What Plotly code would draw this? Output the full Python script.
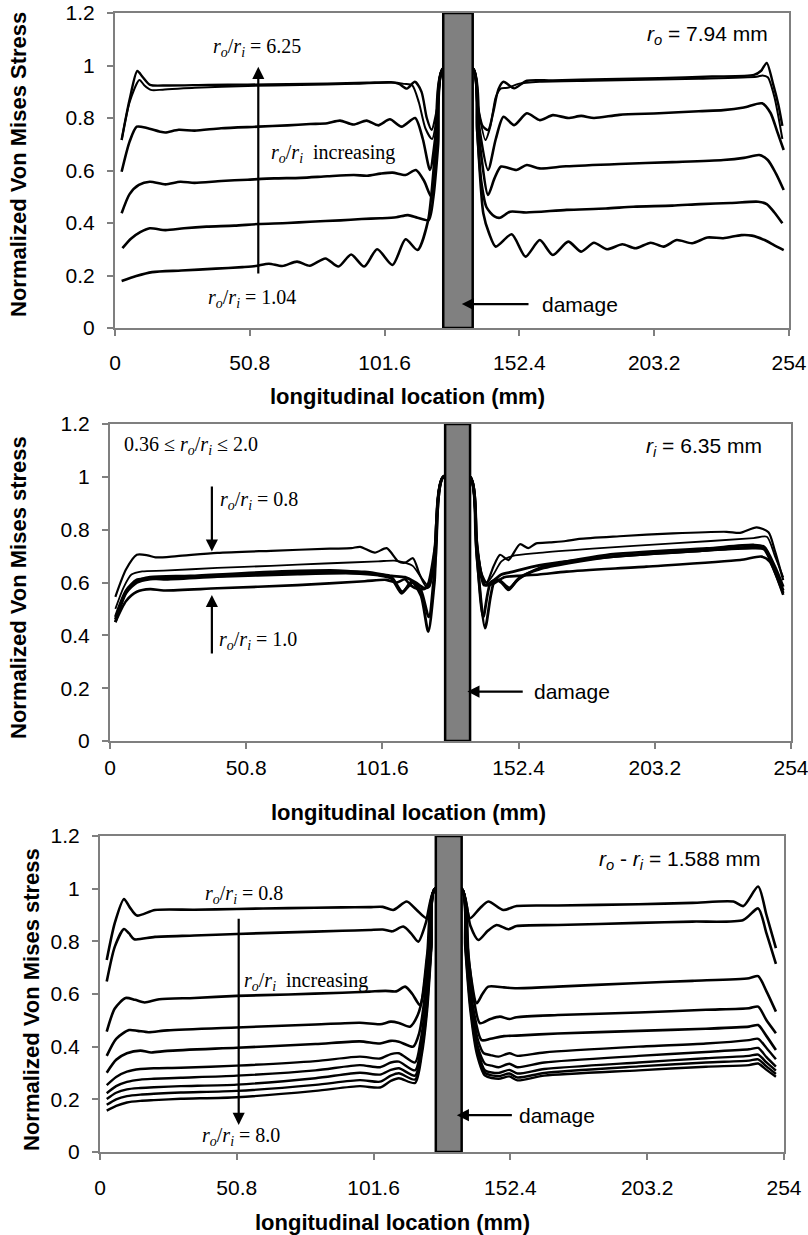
import plotly.graph_objects as go

# ---------------- axis ticks ----------------
X_TICKS = [0, 50.8, 101.6, 152.4, 203.2, 254]
X_TICK_TEXT = ["0", "50.8", "101.6", "152.4", "203.2", "254"]
Y_TICKS = [0, 0.2, 0.4, 0.6, 0.8, 1.0, 1.2]
Y_TICK_TEXT = ["0", "0.2", "0.4", "0.6", "0.8", "1", "1.2"]

# damage zone (mm) per panel
DAMAGE_P1 = [123.7, 134.8]
DAMAGE_P2 = [125.0, 134.3]
DAMAGE_P3 = [124.7, 134.3]

# ---------------- Panel 1 : r_o = 7.94 mm ----------------
P1_C1_X = [2.5, 5.5, 8.4, 10.5, 13.2, 20, 35, 50, 65, 80, 95, 104, 107, 110, 113, 115.5, 117.5, 119.3, 121.5, 123.7,
           134.8, 136.5, 138.5, 140.6, 142.5, 144.5, 146.4, 150.4, 155.2, 165, 185, 205, 225, 240.8, 243.5, 245.6, 248, 250, 251.5]
P1_C1_Y = [0.716, 0.87, 0.979, 0.955, 0.926, 0.924, 0.926, 0.927, 0.929, 0.931, 0.934, 0.936, 0.93, 0.912, 0.938, 0.9, 0.8, 0.755, 0.84, 0.99,
           0.99, 0.86, 0.77, 0.754, 0.82, 0.91, 0.938, 0.913, 0.942, 0.943, 0.948, 0.952, 0.958, 0.964, 0.98, 1.01, 0.93, 0.85, 0.77]
P1_C2_X = [2.5, 5.5, 9.2, 11, 13.5, 18, 30, 50, 70, 90, 105, 109, 112, 114.5, 117, 119.5, 121.5, 123.7,
           134.8, 136.8, 139.6, 141.5, 143.5, 145.5, 148, 152, 160, 180, 200, 220, 241.8, 244, 246, 248.5, 251.5]
P1_C2_Y = [0.716, 0.86, 0.945, 0.925, 0.907, 0.908, 0.915, 0.922, 0.926, 0.93, 0.935, 0.93, 0.925, 0.86, 0.76, 0.72, 0.82, 0.99,
           0.99, 0.84, 0.716, 0.77, 0.88, 0.913, 0.915, 0.93, 0.938, 0.942, 0.946, 0.95, 0.957, 0.962, 0.955, 0.88, 0.72]
P1_C3_X = [2.5, 5.5, 8.2, 12, 17, 19, 24, 30, 40, 54, 65, 73.5, 80, 84.8, 89.8, 94.8, 99.2, 103.6, 108, 113.1, 116, 118.7, 121, 123.7,
           134.8, 137, 140.6, 143.5, 146.4, 150.4, 155.2, 160.1, 165, 170.8, 175.7, 180.5, 190, 205, 220, 229.2, 237, 243.8, 247, 249.5, 252]
P1_C3_Y = [0.595, 0.71, 0.767, 0.762, 0.748, 0.745, 0.755, 0.752, 0.761, 0.767, 0.772, 0.777, 0.78, 0.79, 0.775, 0.79, 0.772, 0.795, 0.767, 0.8, 0.72, 0.602, 0.75, 0.99,
           0.99, 0.78, 0.602, 0.72, 0.805, 0.773, 0.818, 0.792, 0.811, 0.8, 0.808, 0.8, 0.812, 0.818, 0.826, 0.83, 0.84, 0.856, 0.82, 0.75, 0.678]
P1_C4_X = [2.5, 5.5, 9, 13.1, 19, 24.6, 30, 40, 50, 60, 70, 80, 90, 95, 100, 104.6, 109.5, 113.4, 116.5, 119.2, 121.5, 123.7,
           134.8, 137.5, 140.6, 143, 145.5, 151.3, 155.2, 160, 170, 190, 210, 229.2, 237, 242.8, 246, 249, 252]
P1_C4_Y = [0.437, 0.51, 0.545, 0.557, 0.547, 0.557, 0.553, 0.56, 0.565, 0.57, 0.572, 0.578, 0.583, 0.58, 0.588, 0.592, 0.583, 0.602, 0.56, 0.5, 0.7, 0.99,
           0.99, 0.7, 0.507, 0.57, 0.615, 0.602, 0.621, 0.608, 0.616, 0.625, 0.632, 0.64, 0.648, 0.659, 0.64, 0.59, 0.526]
P1_C5_X = [2.8, 6, 9.5, 13.1, 19, 26, 34.5, 45, 54, 65, 73.5, 85, 92.9, 100, 106, 110.4, 114, 118.2, 120, 121.8, 123.7,
           134.8, 136.5, 138, 140, 143, 145.1, 148.9, 155, 170.2, 185, 195.3, 210, 220.5, 232, 242.4, 245.6, 248.5, 251.5]
P1_C5_Y = [0.304, 0.34, 0.365, 0.38, 0.373, 0.38, 0.386, 0.39, 0.396, 0.4, 0.405, 0.41, 0.415, 0.418, 0.422, 0.43, 0.42, 0.411, 0.5, 0.7, 0.99,
           0.99, 0.75, 0.56, 0.46, 0.425, 0.42, 0.443, 0.44, 0.45, 0.455, 0.462, 0.466, 0.472, 0.476, 0.481, 0.472, 0.44, 0.399]
P1_C6_X = [2.5, 8, 14, 25, 38, 48, 53, 58, 63, 68.6, 73.4, 79.3, 84.2, 89, 93.9, 98.8, 104.6, 109.5, 114, 118, 120.6, 123.7,
           134.8, 136.5, 138.8, 141, 143.5, 149.5, 154.7, 160.1, 165, 170.8, 175.7, 180.5, 185.4, 191.2, 196.1, 201.9, 206.8,
           211.7, 217.5, 223.3, 229.2, 236, 240, 244.8, 248.5, 252]
P1_C6_Y = [0.179, 0.198, 0.213, 0.219, 0.226, 0.232, 0.236, 0.245, 0.236, 0.253, 0.237, 0.265, 0.234, 0.28, 0.234, 0.3, 0.24, 0.338, 0.297, 0.41, 0.667, 0.99,
           0.99, 0.75, 0.437, 0.36, 0.31, 0.357, 0.272, 0.335, 0.278, 0.329, 0.291, 0.325, 0.3, 0.319, 0.304, 0.325, 0.31,
           0.335, 0.323, 0.345, 0.342, 0.354, 0.352, 0.335, 0.315, 0.297]

# ---------------- Panel 2 : r_i = 6.35 mm ----------------
P2_C1_X = [2, 6, 10, 14, 17, 25, 40, 60, 82, 90, 93.3, 98.8, 103.2, 107.5, 110, 113, 115.5, 118, 120.5, 124.3,
           134.3, 136.5, 138.5, 140.5, 143, 145.5, 148.6, 152.9, 156, 159, 164, 170, 175, 190, 210, 230, 235, 241.2, 245.6, 248, 251.1]
P2_C1_Y = [0.546, 0.65, 0.705, 0.703, 0.695, 0.7, 0.712, 0.72, 0.728, 0.73, 0.735, 0.713, 0.73, 0.68, 0.675, 0.692, 0.63, 0.585, 0.65, 1.0,
           1.0, 0.78, 0.62, 0.6, 0.66, 0.705, 0.685, 0.745, 0.73, 0.748, 0.752, 0.757, 0.765, 0.775, 0.786, 0.792, 0.788, 0.809, 0.79, 0.72, 0.609]
P2_C2_X = [2, 5, 8, 12, 20, 40, 60, 80, 100, 106, 110, 113, 116, 119, 121.5, 124.3,
           134.3, 136.5, 138.5, 140.5, 143, 146, 150, 160, 180, 210, 240, 245, 248, 251.1]
P2_C2_Y = [0.5, 0.58, 0.63, 0.642, 0.645, 0.655, 0.663, 0.672, 0.68, 0.683, 0.675, 0.662, 0.62, 0.585, 0.72, 1.0,
           1.0, 0.8, 0.64, 0.6, 0.63, 0.68, 0.7, 0.712, 0.728, 0.748, 0.768, 0.773, 0.7, 0.62]
P2_C3_X = [2, 6, 10, 15, 20, 40, 70, 90, 100, 105, 108.8, 112.5, 116, 118.7, 121, 124.3,
           134.3, 136.8, 139.9, 142, 143.6, 146, 148.6, 152, 160, 185, 222.6, 240, 244, 248, 251.1]
P2_C3_Y = [0.47, 0.57, 0.61, 0.615, 0.612, 0.622, 0.632, 0.635, 0.628, 0.615, 0.559, 0.603, 0.55, 0.414, 0.6, 1.0,
           1.0, 0.7, 0.427, 0.55, 0.609, 0.6, 0.572, 0.61, 0.654, 0.704, 0.729, 0.742, 0.735, 0.66, 0.584]
P2_C4_X = [2, 6, 10, 15, 30, 60, 85, 100, 105, 109, 113, 116, 118.9, 121.5, 124.3,
           134.3, 136.5, 139.2, 142, 145, 149, 153, 160, 185, 220, 240, 244, 248, 251.1]
P2_C4_Y = [0.46, 0.565, 0.605, 0.62, 0.625, 0.64, 0.645, 0.63, 0.62, 0.565, 0.6, 0.57, 0.47, 0.7, 1.0,
           1.0, 0.75, 0.47, 0.6, 0.61, 0.58, 0.62, 0.65, 0.695, 0.72, 0.735, 0.73, 0.65, 0.57]
P2_C5_X = [2, 6, 10, 15, 40, 70, 95, 105, 110, 114, 117, 119, 121.5, 124.3,
           134.3, 137, 139.5, 142, 146, 150, 160, 190, 220, 240, 244, 248, 251.1]
P2_C5_Y = [0.45, 0.56, 0.6, 0.613, 0.625, 0.638, 0.64, 0.625, 0.62, 0.6, 0.58, 0.585, 0.75, 1.0,
           1.0, 0.72, 0.59, 0.6, 0.63, 0.64, 0.665, 0.7, 0.72, 0.73, 0.725, 0.64, 0.56]
P2_C6_X = [2, 6, 10, 15, 20, 40, 70, 95, 103, 107, 110, 112, 115, 118, 121, 124.3,
           134.3, 137, 140, 143, 147, 152, 160, 170.3, 200, 235, 243, 246, 251.1]
P2_C6_Y = [0.45, 0.53, 0.565, 0.575, 0.57, 0.578, 0.59, 0.605, 0.61, 0.6, 0.612, 0.59, 0.575, 0.58, 0.72, 1.0,
           1.0, 0.72, 0.59, 0.595, 0.62, 0.625, 0.63, 0.641, 0.66, 0.685, 0.698, 0.68, 0.553]

# ---------------- Panel 3 : r_o - r_i = 1.588 mm ----------------
P3_C1_X = [2.5, 5.5, 8.9, 11, 13.7, 20.4, 35, 50.8, 70, 90, 100, 105, 108.9, 113.9, 117.5, 121.3, 124.4,
           134.3, 137.4, 141, 144.2, 149.8, 154.7, 170, 200, 220, 235.2, 238.9, 244.4, 247.5, 251]
P3_C1_Y = [0.729, 0.87, 0.961, 0.93, 0.898, 0.919, 0.92, 0.923, 0.926, 0.929, 0.93, 0.931, 0.919, 0.951, 0.92, 0.888, 1.0,
           1.0, 0.888, 0.925, 0.951, 0.919, 0.934, 0.936, 0.941, 0.946, 0.951, 0.934, 1.008, 0.9, 0.774]
P3_C2_X = [2.5, 5.5, 8.9, 10.8, 12.7, 20.4, 35, 50.8, 70, 90, 100, 105, 108.5, 112.6, 115.5, 118.2, 121, 124.4,
           134.3, 137.5, 140.5, 144, 147.3, 151.6, 154.7, 170, 200, 220, 238.9, 244.4, 247.5, 251]
P3_C2_Y = [0.647, 0.78, 0.847, 0.83, 0.808, 0.817, 0.822, 0.828, 0.834, 0.84, 0.843, 0.845, 0.838, 0.856, 0.83, 0.799, 0.87, 1.0,
           1.0, 0.86, 0.805, 0.84, 0.862, 0.846, 0.858, 0.862, 0.87, 0.875, 0.881, 0.925, 0.83, 0.714]
P3_C3_X = [2.5, 5.5, 9.5, 13, 16.6, 22, 35, 50.8, 70, 90, 100, 106, 110, 113.3, 116, 118.8, 121.5, 124.4,
           134.3, 137, 139.9, 142, 144.2, 150, 154.7, 170, 198, 220, 241, 244.4, 247.5, 251]
P3_C3_Y = [0.457, 0.545, 0.585, 0.578, 0.568, 0.58, 0.585, 0.593, 0.598, 0.605, 0.609, 0.612, 0.61, 0.628, 0.6, 0.558, 0.75, 1.0,
           1.0, 0.72, 0.565, 0.6, 0.628, 0.625, 0.622, 0.628, 0.641, 0.65, 0.66, 0.668, 0.61, 0.533]
P3_C4_X = [2.5, 6, 10.8, 14, 18, 25, 50.8, 80, 96.5, 104, 108, 111, 115.1, 118, 120, 122, 124.4,
           134.3, 136.5, 138.5, 141.1, 145, 148.5, 152, 154.7, 170, 200, 225, 241, 244.4, 247.5, 251]
P3_C4_Y = [0.365, 0.43, 0.463, 0.46, 0.455, 0.462, 0.473, 0.484, 0.491, 0.485, 0.495, 0.49, 0.476, 0.52, 0.6, 0.78, 1.0,
           1.0, 0.78, 0.6, 0.489, 0.505, 0.514, 0.505, 0.512, 0.52, 0.53, 0.54, 0.546, 0.552, 0.5, 0.451]
P3_C5_X = [2.5, 6, 10, 15, 19, 25, 50.8, 80, 96.5, 104, 108, 111, 116.3, 118.5, 120.5, 122.3, 124.4,
           134.3, 136.3, 138.5, 141.7, 145, 150, 154.7, 170, 200, 225, 241, 244.4, 247.5, 251]
P3_C5_Y = [0.301, 0.35, 0.375, 0.385, 0.378, 0.384, 0.396, 0.41, 0.42, 0.412, 0.422, 0.419, 0.4, 0.45, 0.58, 0.78, 1.0,
           1.0, 0.76, 0.55, 0.425, 0.43, 0.44, 0.442, 0.45, 0.46, 0.468, 0.476, 0.482, 0.44, 0.387]
P3_C6_X = [2.5, 6, 10, 15, 20, 30, 50.8, 80, 96.5, 104, 108, 111, 117, 119, 121, 122.8, 124.4,
           134.3, 136, 138, 140.5, 142.5, 145, 148, 152, 155, 165, 200, 225, 241, 244.4, 247.5, 251]
P3_C6_Y = [0.254, 0.285, 0.305, 0.315, 0.318, 0.32, 0.328, 0.345, 0.362, 0.355, 0.372, 0.375, 0.34, 0.42, 0.57, 0.78, 1.0,
           1.0, 0.78, 0.56, 0.42, 0.375, 0.368, 0.362, 0.375, 0.365, 0.378, 0.4, 0.412, 0.425, 0.43, 0.395, 0.352]
P3_C7_X = [2.5, 6, 10, 15, 20, 30, 50.8, 80, 96.5, 104, 108, 111, 117, 119.2, 121.2, 122.9, 124.4,
           134.3, 135.9, 137.8, 140.3, 143, 145.5, 148, 152, 155, 165, 200, 225, 241, 244.4, 247.5, 251]
P3_C7_Y = [0.223, 0.25, 0.266, 0.275, 0.278, 0.282, 0.29, 0.31, 0.33, 0.322, 0.34, 0.343, 0.31, 0.4, 0.57, 0.78, 1.0,
           1.0, 0.78, 0.55, 0.4, 0.335, 0.328, 0.322, 0.335, 0.322, 0.34, 0.365, 0.38, 0.39, 0.395, 0.36, 0.324]
P3_C8_X = [2.5, 6, 10, 15, 20, 30, 50.8, 80, 96.5, 104, 108, 111, 117, 119.3, 121.3, 123, 124.4,
           134.3, 135.8, 137.7, 140.2, 143, 148, 152, 155, 165, 200, 225, 241, 244.4, 247.5, 251]
P3_C8_Y = [0.201, 0.225, 0.238, 0.243, 0.246, 0.25, 0.256, 0.28, 0.301, 0.294, 0.312, 0.318, 0.29, 0.39, 0.56, 0.78, 1.0,
           1.0, 0.78, 0.55, 0.39, 0.31, 0.3, 0.312, 0.298, 0.315, 0.34, 0.356, 0.365, 0.37, 0.34, 0.309]
P3_C9_X = [2.5, 6, 10, 15, 20, 30, 50.8, 80, 96.5, 104, 108, 111, 117, 119.4, 121.4, 123, 124.4,
           134.3, 135.7, 137.6, 140.1, 143, 148, 152, 155, 165, 200, 225, 241, 244.4, 247.5, 251]
P3_C9_Y = [0.179, 0.2, 0.212, 0.218, 0.221, 0.226, 0.232, 0.255, 0.273, 0.267, 0.29, 0.299, 0.275, 0.38, 0.55, 0.78, 1.0,
           1.0, 0.78, 0.55, 0.38, 0.3, 0.288, 0.298, 0.283, 0.3, 0.325, 0.34, 0.347, 0.352, 0.325, 0.296]
P3_C10_X = [2.5, 6, 10, 15, 20, 30, 50.8, 80, 96.5, 104, 108, 111, 117, 119.5, 121.5, 123.1, 124.4,
            134.3, 135.6, 137.5, 140, 143, 148, 152, 155, 165, 200, 225, 241, 244.4, 247.5, 251]
P3_C10_Y = [0.157, 0.175, 0.188, 0.194, 0.197, 0.202, 0.208, 0.232, 0.25, 0.245, 0.27, 0.28, 0.262, 0.37, 0.54, 0.78, 1.0,
            1.0, 0.78, 0.54, 0.37, 0.29, 0.278, 0.287, 0.272, 0.29, 0.31, 0.324, 0.33, 0.336, 0.312, 0.286]

P1_CURVES = [(P1_C1_X, P1_C1_Y, 2.4), (P1_C2_X, P1_C2_Y, 2.0), (P1_C3_X, P1_C3_Y, 2.6), (P1_C4_X, P1_C4_Y, 2.6),
             (P1_C5_X, P1_C5_Y, 2.6), (P1_C6_X, P1_C6_Y, 2.6)]
P2_CURVES = [(P2_C1_X, P2_C1_Y, 2.2), (P2_C2_X, P2_C2_Y, 1.8), (P2_C3_X, P2_C3_Y, 2.8), (P2_C4_X, P2_C4_Y, 2.8),
             (P2_C5_X, P2_C5_Y, 2.8), (P2_C6_X, P2_C6_Y, 2.6)]
P3_CURVES = [(P3_C1_X, P3_C1_Y, 2.6), (P3_C2_X, P3_C2_Y, 2.6), (P3_C3_X, P3_C3_Y, 2.6), (P3_C4_X, P3_C4_Y, 2.6),
             (P3_C5_X, P3_C5_Y, 2.6), (P3_C6_X, P3_C6_Y, 2.4), (P3_C7_X, P3_C7_Y, 2.4), (P3_C8_X, P3_C8_Y, 2.4),
             (P3_C9_X, P3_C9_Y, 2.4), (P3_C10_X, P3_C10_Y, 2.4)]

SANS = "Liberation Sans, Arial, sans-serif"
SERIF = "Liberation Serif, Times New Roman, serif"
W, H = 808, 1235

fig = go.Figure()
for curves, xa, ya in [(P1_CURVES, "x", "y"), (P2_CURVES, "x2", "y2"), (P3_CURVES, "x3", "y3")]:
    for xs, ys, lw in curves:
        fig.add_trace(go.Scatter(x=xs, y=ys, mode="lines", xaxis=xa, yaxis=ya,
                                 line=dict(color="black", width=lw, shape="spline", smoothing=0.7),
                                 hoverinfo="skip", showlegend=False))

# panel pixel boxes: (left, right, top, bottom)
BOXES = [(115, 789, 13, 328), (110, 791, 424, 741), (100, 784, 836, 1152)]
STANDOFF_X = [9, 1, 10]


def xdom(b):
    return [b[0] / W, b[1] / W]


def ydom(b):
    return [1 - b[3] / H, 1 - b[2] / H]


axis_common = dict(showline=True, linecolor="#7f7f7f", linewidth=2, mirror=True, showgrid=False, zeroline=False,
                   ticks="outside", ticklen=6, tickwidth=1.5, tickcolor="#7f7f7f", automargin=False,
                   ticklabeloverflow="allow", tickfont=dict(family=SANS, size=21, color="black"))
layout = dict(width=W, height=H, margin=dict(l=0, r=0, t=0, b=0, autoexpand=False), paper_bgcolor="white",
              plot_bgcolor="white", showlegend=False, hovermode=False, template="none")
for i, b in enumerate(BOXES):
    sx = "" if i == 0 else str(i + 1)
    layout["xaxis" + sx] = dict(domain=xdom(b), anchor="y" + sx, range=[0, 254], tickvals=X_TICKS, ticktext=X_TICK_TEXT,
                                ticklabelstandoff=STANDOFF_X[i], **axis_common)
    layout["yaxis" + sx] = dict(domain=ydom(b), anchor="x" + sx, range=[0, 1.2], tickvals=Y_TICKS, ticktext=Y_TICK_TEXT,
                                ticklabelstandoff=8, **axis_common)
fig.update_layout(**layout)

# damage bars
for i, dmg in enumerate([DAMAGE_P1, DAMAGE_P2, DAMAGE_P3]):
    sx = "" if i == 0 else str(i + 1)
    fig.add_shape(type="rect", xref="x" + sx, yref="y" + sx, x0=dmg[0], x1=dmg[1], y0=0, y1=1.2,
                  fillcolor="#808080", line=dict(color="black", width=2.5), layer="above")

RO_RI = "<i>r</i><sub><i>o</i></sub>/<i>r</i><sub><i>i</i></sub>"
ann = []


def text(x, y, s, ref, family=SERIF, size=20, xanchor="center"):
    ann.append(dict(x=x, y=y, xref="x" + ref, yref="y" + ref, text=s, showarrow=False, xanchor=xanchor,
                    yanchor="middle", font=dict(family=family, size=size, color="black")))


def arrow(x, y, ax, ay, ref):
    ann.append(dict(x=x, y=y, ax=ax, ay=ay, xref="x" + ref, yref="y" + ref, axref="x" + ref, ayref="y" + ref,
                    text="", showarrow=True, arrowhead=2, arrowsize=1.1, arrowwidth=2.2, arrowcolor="black"))


# panel 1
text(53.4, 1.067, RO_RI + " = 6.25", "")
arrow(54, 0.995, 54, 0.202, "")
text(57.9, 0.665, RO_RI + "  increasing", "", xanchor="left")
text(51.6, 0.113, RO_RI + " = 1.04", "")
text(246.7, 1.116, "<i>r</i><sub><i>o</i></sub> = 7.94 mm", "", family=SANS, size=21, xanchor="right")
arrow(130.7, 0.091, 156.4, 0.091, "")
text(160.2, 0.091, "damage", "", family=SANS, size=21, xanchor="left")
# panel 2
text(4.4, 1.12, "0.36 \u2264 " + RO_RI + " \u2264 2.0", "2", xanchor="left")
text(244.1, 1.114, "<i>r</i><sub><i>i</i></sub> = 6.35 mm", "2", family=SANS, size=21, xanchor="right")
arrow(38, 0.717, 38, 0.969, "2")
text(40.4, 0.912, RO_RI + " = 0.8", "2", xanchor="left")
arrow(38, 0.553, 38, 0.326, "2")
text(39.8, 0.382, RO_RI + " = 1.0", "2", xanchor="left")
arrow(133.3, 0.187, 154.5, 0.187, "2")
text(157.4, 0.187, "damage", "2", family=SANS, size=21, xanchor="left")
# panel 3
text(245.8, 1.109, "<i>r</i><sub><i>o</i></sub> - <i>r</i><sub><i>i</i></sub> = 1.588 mm", "3", family=SANS, size=21,
     xanchor="right")
text(53.5, 0.976, RO_RI + " = 0.8", "3")
arrow(51.5, 0.103, 51.5, 0.891, "3")
text(52.6, 0.647, RO_RI + "  increasing", "3", xanchor="left")
text(52.3, 0.058, RO_RI + " = 8.0", "3")
arrow(132.5, 0.14, 153.5, 0.14, "3")
text(154.7, 0.14, "damage", "3", family=SANS, size=21, xanchor="left")

# axis titles as paper annotations
YT = ["Normalized Von Mises Stress", "Normalized Von Mises stress", "Normalized Von Mises stress"]
YT_POS = [(18, 165), (18, 588), (31, 1000)]
XT_POS = [(407, 396), (408, 812), (392, 1222)]
for i in range(3):
    ann.append(dict(x=YT_POS[i][0] / W, y=1 - YT_POS[i][1] / H, xref="paper", yref="paper", text="<b>%s</b>" % YT[i],
                    textangle=-90, showarrow=False, xanchor="center", yanchor="middle",
                    font=dict(family=SANS, size=22, color="black")))
    ann.append(dict(x=XT_POS[i][0] / W, y=1 - XT_POS[i][1] / H, xref="paper", yref="paper",
                    text="<b>longitudinal location (mm)</b>", showarrow=False, xanchor="center", yanchor="middle",
                    font=dict(family=SANS, size=22, color="black")))

fig.update_layout(annotations=ann)
fig.write_html("out.html")
